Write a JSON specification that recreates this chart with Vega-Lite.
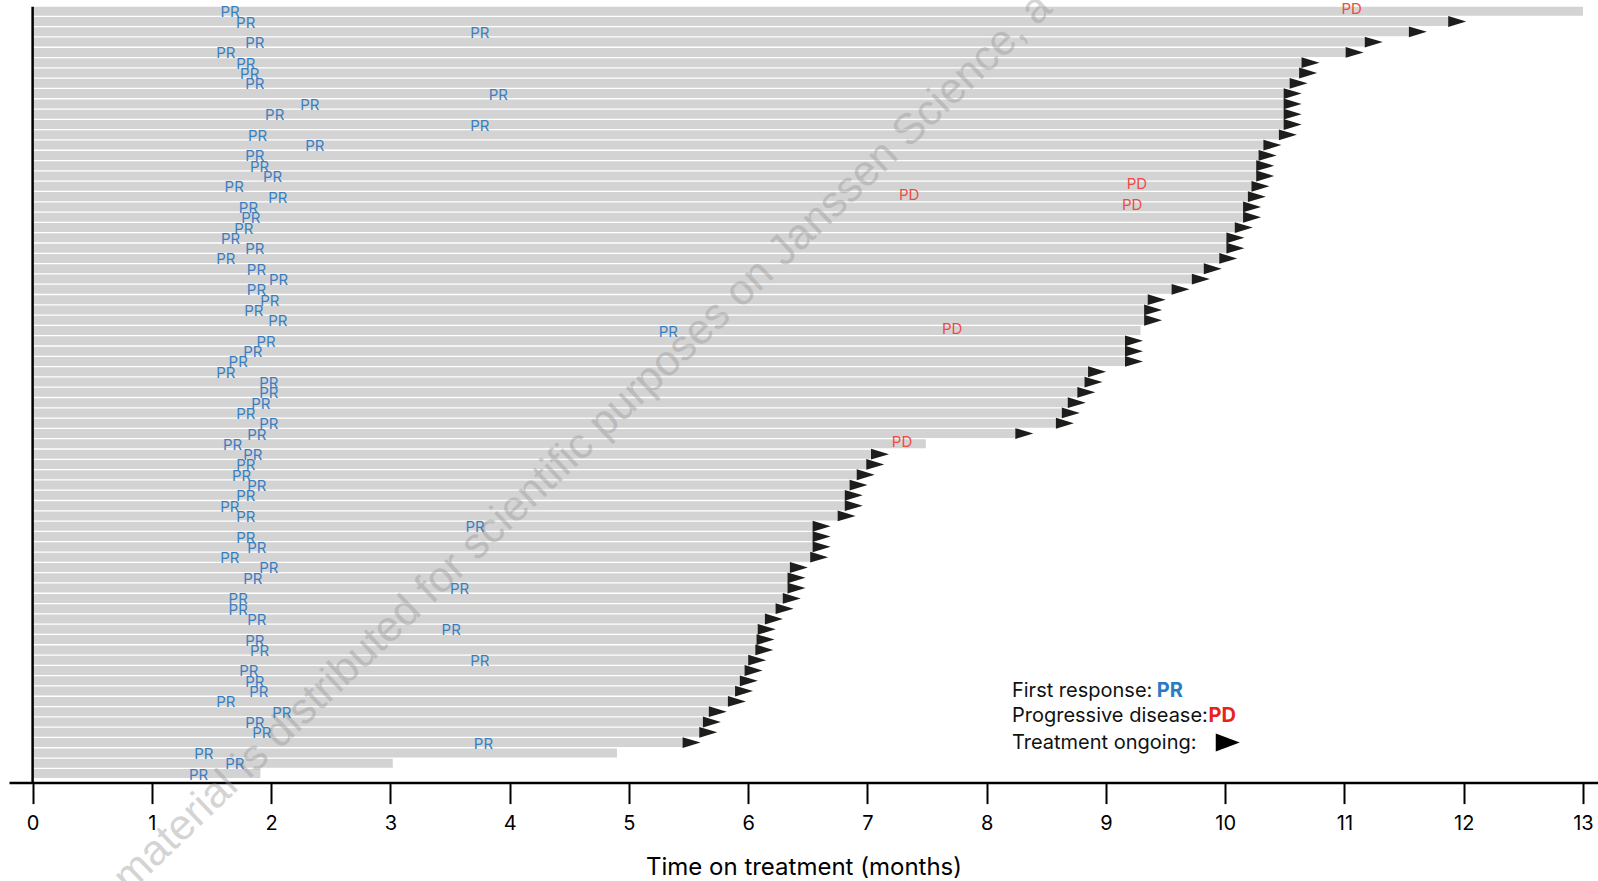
{
  "$schema": "https://vega.github.io/schema/vega-lite/v6.json",
  "autosize": {"type": "none"},
  "width": 1589,
  "height": 775.9,
  "padding": {"left": 9, "top": 6.7, "right": 0, "bottom": 98.4},
  "background": "white",
  "config": {"view": {"stroke": null}, "font": "Inter"},
  "datasets": {
    "patients": [
      {"pid": 1, "end": 13.0, "ongoing": false, "pr": 1.655, "pd": 11.06},
      {"pid": 2, "end": 11.87, "ongoing": true, "pr": 1.787, "pd": null},
      {"pid": 3, "end": 11.54, "ongoing": true, "pr": 3.75, "pd": null},
      {"pid": 4, "end": 11.17, "ongoing": true, "pr": 1.863, "pd": null},
      {"pid": 5, "end": 11.01, "ongoing": true, "pr": 1.62, "pd": null},
      {"pid": 6, "end": 10.64, "ongoing": true, "pr": 1.788, "pd": null},
      {"pid": 7, "end": 10.62, "ongoing": true, "pr": 1.82, "pd": null},
      {"pid": 8, "end": 10.54, "ongoing": true, "pr": 1.863, "pd": null},
      {"pid": 9, "end": 10.49, "ongoing": true, "pr": 3.905, "pd": null},
      {"pid": 10, "end": 10.49, "ongoing": true, "pr": 2.325, "pd": null},
      {"pid": 11, "end": 10.49, "ongoing": true, "pr": 2.03, "pd": null},
      {"pid": 12, "end": 10.49, "ongoing": true, "pr": 3.75, "pd": null},
      {"pid": 13, "end": 10.45, "ongoing": true, "pr": 1.886, "pd": null},
      {"pid": 14, "end": 10.32, "ongoing": true, "pr": 2.367, "pd": null},
      {"pid": 15, "end": 10.28, "ongoing": true, "pr": 1.863, "pd": null},
      {"pid": 16, "end": 10.26, "ongoing": true, "pr": 1.903, "pd": null},
      {"pid": 17, "end": 10.26, "ongoing": true, "pr": 2.012, "pd": null},
      {"pid": 18, "end": 10.22, "ongoing": true, "pr": 1.69, "pd": 9.26},
      {"pid": 19, "end": 10.19, "ongoing": true, "pr": 2.056, "pd": 7.35},
      {"pid": 20, "end": 10.15, "ongoing": true, "pr": 1.81, "pd": 9.22},
      {"pid": 21, "end": 10.15, "ongoing": true, "pr": 1.83, "pd": null},
      {"pid": 22, "end": 10.08, "ongoing": true, "pr": 1.771, "pd": null},
      {"pid": 23, "end": 10.01, "ongoing": true, "pr": 1.66, "pd": null},
      {"pid": 24, "end": 10.01, "ongoing": true, "pr": 1.863, "pd": null},
      {"pid": 25, "end": 9.95, "ongoing": true, "pr": 1.62, "pd": null},
      {"pid": 26, "end": 9.82, "ongoing": true, "pr": 1.877, "pd": null},
      {"pid": 27, "end": 9.72, "ongoing": true, "pr": 2.062, "pd": null},
      {"pid": 28, "end": 9.55, "ongoing": true, "pr": 1.877, "pd": null},
      {"pid": 29, "end": 9.35, "ongoing": true, "pr": 1.989, "pd": null},
      {"pid": 30, "end": 9.32, "ongoing": true, "pr": 1.855, "pd": null},
      {"pid": 31, "end": 9.32, "ongoing": true, "pr": 2.056, "pd": null},
      {"pid": 32, "end": 9.29, "ongoing": false, "pr": 5.33, "pd": 7.71},
      {"pid": 33, "end": 9.16, "ongoing": true, "pr": 1.958, "pd": null},
      {"pid": 34, "end": 9.16, "ongoing": true, "pr": 1.847, "pd": null},
      {"pid": 35, "end": 9.16, "ongoing": true, "pr": 1.724, "pd": null},
      {"pid": 36, "end": 8.85, "ongoing": true, "pr": 1.62, "pd": null},
      {"pid": 37, "end": 8.82, "ongoing": true, "pr": 1.981, "pd": null},
      {"pid": 38, "end": 8.76, "ongoing": true, "pr": 1.981, "pd": null},
      {"pid": 39, "end": 8.68, "ongoing": true, "pr": 1.914, "pd": null},
      {"pid": 40, "end": 8.63, "ongoing": true, "pr": 1.788, "pd": null},
      {"pid": 41, "end": 8.58, "ongoing": true, "pr": 1.981, "pd": null},
      {"pid": 42, "end": 8.24, "ongoing": true, "pr": 1.88, "pd": null},
      {"pid": 43, "end": 7.49, "ongoing": false, "pr": 1.676, "pd": 7.29},
      {"pid": 44, "end": 7.03, "ongoing": true, "pr": 1.847, "pd": null},
      {"pid": 45, "end": 6.99, "ongoing": true, "pr": 1.788, "pd": null},
      {"pid": 46, "end": 6.91, "ongoing": true, "pr": 1.752, "pd": null},
      {"pid": 47, "end": 6.85, "ongoing": true, "pr": 1.88, "pd": null},
      {"pid": 48, "end": 6.81, "ongoing": true, "pr": 1.788, "pd": null},
      {"pid": 49, "end": 6.81, "ongoing": true, "pr": 1.654, "pd": null},
      {"pid": 50, "end": 6.75, "ongoing": true, "pr": 1.788, "pd": null},
      {"pid": 51, "end": 6.54, "ongoing": true, "pr": 3.71, "pd": null},
      {"pid": 52, "end": 6.54, "ongoing": true, "pr": 1.788, "pd": null},
      {"pid": 53, "end": 6.54, "ongoing": true, "pr": 1.88, "pd": null},
      {"pid": 54, "end": 6.52, "ongoing": true, "pr": 1.654, "pd": null},
      {"pid": 55, "end": 6.35, "ongoing": true, "pr": 1.981, "pd": null},
      {"pid": 56, "end": 6.33, "ongoing": true, "pr": 1.847, "pd": null},
      {"pid": 57, "end": 6.33, "ongoing": true, "pr": 3.58, "pd": null},
      {"pid": 58, "end": 6.29, "ongoing": true, "pr": 1.724, "pd": null},
      {"pid": 59, "end": 6.23, "ongoing": true, "pr": 1.724, "pd": null},
      {"pid": 60, "end": 6.14, "ongoing": true, "pr": 1.88, "pd": null},
      {"pid": 61, "end": 6.08, "ongoing": true, "pr": 3.51, "pd": null},
      {"pid": 62, "end": 6.07, "ongoing": true, "pr": 1.863, "pd": null},
      {"pid": 63, "end": 6.06, "ongoing": true, "pr": 1.903, "pd": null},
      {"pid": 64, "end": 6.0, "ongoing": true, "pr": 3.75, "pd": null},
      {"pid": 65, "end": 5.97, "ongoing": true, "pr": 1.813, "pd": null},
      {"pid": 66, "end": 5.93, "ongoing": true, "pr": 1.863, "pd": null},
      {"pid": 67, "end": 5.89, "ongoing": true, "pr": 1.897, "pd": null},
      {"pid": 68, "end": 5.83, "ongoing": true, "pr": 1.62, "pd": null},
      {"pid": 69, "end": 5.67, "ongoing": true, "pr": 2.09, "pd": null},
      {"pid": 70, "end": 5.62, "ongoing": true, "pr": 1.863, "pd": null},
      {"pid": 71, "end": 5.59, "ongoing": true, "pr": 1.922, "pd": null},
      {"pid": 72, "end": 5.45, "ongoing": true, "pr": 3.78, "pd": null},
      {"pid": 73, "end": 4.9, "ongoing": false, "pr": 1.436, "pd": null},
      {"pid": 74, "end": 3.02, "ongoing": false, "pr": 1.696, "pd": null},
      {"pid": 75, "end": 1.91, "ongoing": false, "pr": 1.391, "pd": null}
    ],
    "legend_text": [
      {"label": "First response:", "x": 8.212, "pid": 67, "line": 1},
      {"label": "Progressive disease:", "x": 8.212, "pid": 69, "line": 2},
      {"label": "Treatment ongoing:", "x": 8.212, "pid": 72, "line": 3}
    ],
    "legend_codes": [
      {"label": "PR", "x": 9.426, "pid": 67, "line": 1},
      {"label": "PD", "x": 9.86, "pid": 69, "line": 2}
    ],
    "legend_arrow": [
      {"x": 9.921, "pid": 72}
    ],
    "watermark": [
      {"label": "This material is distributed for scientific purposes on Janssen Science, a", "x": 4.33, "pid": 46}
    ]
  },
  "layer": [
    {
      "data": {"name": "patients"},
      "mark": {"type": "bar", "color": "#d3d3d3"},
      "encoding": {
        "y": {"field": "pid", "type": "ordinal", "axis": null, "scale": {"paddingInner": 0.126, "paddingOuter": 0.223, "align": 0}},
        "x": {
          "field": "end", "type": "quantitative",
          "scale": {"domain": [-0.198, 13.126], "nice": false, "zero": false},
          "axis": {
            "values": [0, 1, 2, 3, 4, 5, 6, 7, 8, 9, 10, 11, 12, 13],
            "format": "d",
            "grid": false,
            "domainColor": "#000000", "domainWidth": 2.5,
            "tickColor": "#000000", "tickWidth": 2, "tickSize": 21,
            "labelFontSize": 20, "labelColor": "#000000", "labelFont": "Inter", "labelPadding": 10,
            "title": "Time on treatment (months)",
            "titleFontSize": 24, "titleFontWeight": "normal", "titleColor": "#000000", "titleFont": "Inter", "titlePadding": 22
          }
        },
        "x2": {"datum": 0}
      }
    },
    {
      "data": {"values": [{}]},
      "mark": {"type": "rule", "color": "#000000", "strokeWidth": 2.5},
      "encoding": {"x": {"datum": 0}}
    },
    {
      "data": {"name": "patients"},
      "transform": [{"filter": "datum.ongoing"}],
      "mark": {"type": "point", "shape": "M0,-0.6L2,0L0,0.6Z", "size": 324, "filled": true, "color": "#1d1d1b", "opacity": 1, "strokeWidth": 0},
      "encoding": {
        "y": {"field": "pid", "type": "ordinal"},
        "x": {"field": "end", "type": "quantitative"}
      }
    },
    {
      "data": {"name": "watermark"},
      "mark": {"type": "text", "angle": -43.7, "fontSize": 43, "font": "Liberation Sans", "color": "#9a9a9a", "opacity": 0.42, "align": "center", "baseline": "middle"},
      "encoding": {
        "y": {"field": "pid", "type": "ordinal"},
        "x": {"field": "x", "type": "quantitative"},
        "text": {"field": "label"}
      }
    },
    {
      "data": {"name": "patients"},
      "mark": {"type": "text", "fontSize": 15, "font": "Inter", "color": "#3a7fc1", "align": "center", "baseline": "middle", "dy": 1},
      "encoding": {
        "y": {"field": "pid", "type": "ordinal"},
        "x": {"field": "pr", "type": "quantitative"},
        "text": {"value": "PR"}
      }
    },
    {
      "data": {"name": "patients"},
      "transform": [{"filter": "datum.pd != null"}],
      "mark": {"type": "text", "fontSize": 15, "font": "Inter", "color": "#ef4b44", "align": "center", "baseline": "middle", "dy": -2},
      "encoding": {
        "y": {"field": "pid", "type": "ordinal"},
        "x": {"field": "pd", "type": "quantitative"},
        "text": {"value": "PD"}
      }
    },
    {
      "data": {"name": "legend_text"},
      "transform": [{"filter": "datum.line != 2"}],
      "mark": {"type": "text", "fontSize": 20, "font": "Inter", "color": "#111111", "align": "left", "baseline": "middle"},
      "encoding": {
        "y": {"field": "pid", "type": "ordinal"},
        "x": {"field": "x", "type": "quantitative"},
        "text": {"field": "label"}
      }
    },
    {
      "data": {"name": "legend_text"},
      "transform": [{"filter": "datum.line == 2"}],
      "mark": {"type": "text", "fontSize": 20, "font": "Inter", "color": "#111111", "align": "left", "baseline": "middle", "dy": 4},
      "encoding": {
        "y": {"field": "pid", "type": "ordinal"},
        "x": {"field": "x", "type": "quantitative"},
        "text": {"field": "label"}
      }
    },
    {
      "data": {"name": "legend_codes"},
      "transform": [{"filter": "datum.line == 1"}],
      "mark": {"type": "text", "fontSize": 20, "font": "Inter", "fontWeight": "bold", "align": "left", "baseline": "middle"},
      "encoding": {
        "y": {"field": "pid", "type": "ordinal"},
        "x": {"field": "x", "type": "quantitative"},
        "text": {"field": "label"},
        "color": {"field": "label", "type": "nominal", "scale": {"domain": ["PR", "PD"], "range": ["#2a7bc4", "#e8231c"]}, "legend": null}
      }
    },
    {
      "data": {"name": "legend_codes"},
      "transform": [{"filter": "datum.line == 2"}],
      "mark": {"type": "text", "fontSize": 20, "font": "Inter", "fontWeight": "bold", "align": "left", "baseline": "middle", "dy": 4},
      "encoding": {
        "y": {"field": "pid", "type": "ordinal"},
        "x": {"field": "x", "type": "quantitative"},
        "text": {"field": "label"},
        "color": {"field": "label", "type": "nominal", "scale": {"domain": ["PR", "PD"], "range": ["#2a7bc4", "#e8231c"]}, "legend": null}
      }
    },
    {
      "data": {"name": "legend_arrow"},
      "mark": {"type": "point", "shape": "M0,-0.75L2,0L0,0.75Z", "size": 576, "filled": true, "color": "#000000", "opacity": 1, "strokeWidth": 0},
      "encoding": {
        "y": {"field": "pid", "type": "ordinal"},
        "x": {"field": "x", "type": "quantitative"}
      }
    }
  ]
}
